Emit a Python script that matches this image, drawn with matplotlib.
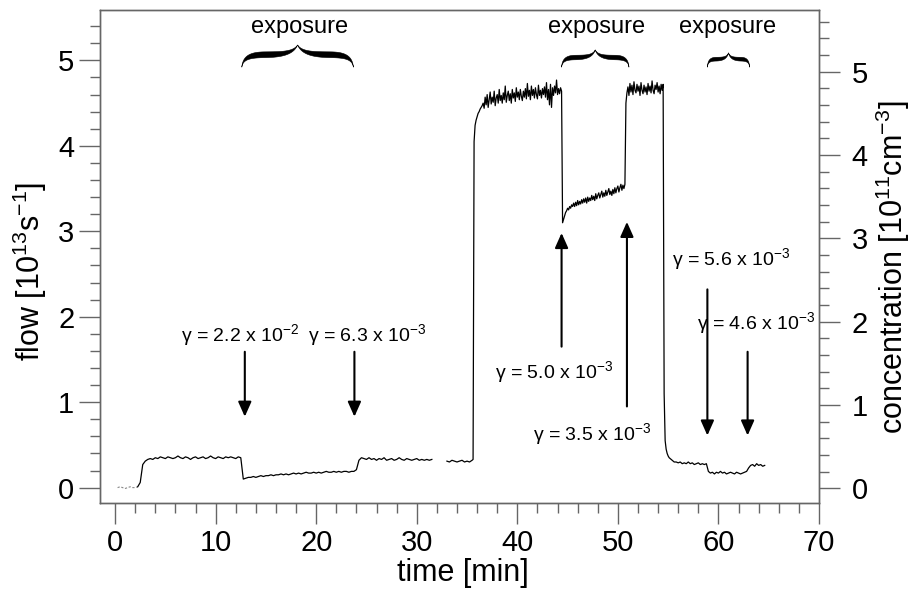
import numpy as np
import matplotlib
matplotlib.use("Agg")
import matplotlib.pyplot as plt
from matplotlib.ticker import MultipleLocator
from matplotlib import font_manager
from matplotlib.patches import Polygon
from matplotlib.transforms import Affine2D, blended_transform_factory

plt.rcParams['font.family'] = ['Liberation Sans', 'DejaVu Sans']
plt.rcParams['mathtext.fontset'] = 'custom'
plt.rcParams['mathtext.rm'] = 'Liberation Sans'
plt.rcParams['mathtext.it'] = 'Liberation Sans:italic'
plt.rcParams['mathtext.bf'] = 'Liberation Sans:bold'
plt.rcParams['mathtext.sf'] = 'Liberation Sans'
plt.rcParams['mathtext.default'] = 'regular'

# ---------------- data (flow in 10^13 s^-1) -------------
# each segment: start time [min], sampling step [min], flow values
flow_base = [0.0, 0.01, 0.0, -0.01, 0.0, 0.01, 0.0, 0.0, 0.01]
flow_plateau1 = [0.06, 0.27, 0.31, 0.33, 0.34, 0.33, 0.35, 0.34, 0.36, 0.35,
                 0.34, 0.36, 0.35, 0.34, 0.35, 0.37, 0.35, 0.34, 0.36, 0.35,
                 0.33, 0.35, 0.36, 0.34, 0.35, 0.36, 0.34, 0.35, 0.37, 0.35,
                 0.34, 0.36, 0.35, 0.34, 0.36, 0.35, 0.36, 0.35, 0.34, 0.36,
                 0.35]
flow_exposure1 = [0.10, 0.11, 0.12, 0.12, 0.13, 0.12, 0.13, 0.14, 0.13, 0.14,
                  0.14, 0.15, 0.14, 0.15, 0.15, 0.16, 0.15, 0.16, 0.15, 0.16,
                  0.17, 0.16, 0.17, 0.16, 0.17, 0.18, 0.17, 0.17, 0.18, 0.17,
                  0.18, 0.17, 0.18, 0.19, 0.18, 0.18, 0.19, 0.18, 0.19, 0.18,
                  0.19, 0.19, 0.18, 0.19, 0.19]
flow_plateau2 = [0.21, 0.32, 0.35, 0.34, 0.33, 0.35, 0.33, 0.34, 0.32, 0.34,
                 0.33, 0.35, 0.32, 0.33, 0.34, 0.32, 0.33, 0.35, 0.33, 0.32,
                 0.34, 0.33, 0.32, 0.33, 0.34, 0.32, 0.33, 0.32, 0.33, 0.32,
                 0.33]
flow_plateau3 = [0.31, 0.30, 0.32, 0.31, 0.30, 0.31, 0.32, 0.30, 0.31, 0.30, 0.32]
flow_high1 = [0.33, 4.05, 4.24, 4.30, 4.34, 4.38, 4.40, 4.43, 4.45, 4.47,
              4.50, 4.44, 4.57, 4.48, 4.60, 4.45, 4.54, 4.63, 4.49, 4.57,
              4.51, 4.64, 4.47, 4.56, 4.60, 4.50, 4.66, 4.53, 4.59, 4.50,
              4.62, 4.54, 4.70, 4.51, 4.59, 4.64, 4.53, 4.61, 4.50, 4.66,
              4.56, 4.62, 4.52, 4.68, 4.57, 4.63, 4.54, 4.66, 4.58, 4.53,
              4.64, 4.57, 4.67, 4.55, 4.73, 4.58, 4.65, 4.54, 4.70, 4.59,
              4.66, 4.56, 4.68, 4.60, 4.55, 4.71, 4.59, 4.65, 4.56, 4.67,
              4.60, 4.69, 4.57, 4.74, 4.54, 4.66, 4.48, 4.72, 4.45, 4.68,
              4.59, 4.70, 4.62, 4.77, 4.60, 4.67, 4.61, 4.68, 4.64]
flow_exposure2 = [3.10, 3.14, 3.18, 3.22, 3.24, 3.27, 3.25, 3.29, 3.27, 3.31,
                  3.29, 3.33, 3.29, 3.34, 3.30, 3.36, 3.31, 3.35, 3.32, 3.37,
                  3.33, 3.38, 3.34, 3.39, 3.33, 3.40, 3.35, 3.39, 3.36, 3.42,
                  3.37, 3.41, 3.36, 3.44, 3.38, 3.42, 3.45, 3.39, 3.43, 3.47,
                  3.40, 3.45, 3.41, 3.48, 3.42, 3.46, 3.50, 3.43, 3.47, 3.42,
                  3.49, 3.44, 3.51, 3.45, 3.50, 3.53, 3.46, 3.51, 3.55, 3.48,
                  3.54, 3.50, 3.55]
flow_high2 = [4.50, 4.62, 4.69, 4.59, 4.73, 4.63, 4.71, 4.60, 4.75, 4.65,
              4.62, 4.72, 4.64, 4.70, 4.59, 4.74, 4.65, 4.61, 4.71, 4.63,
              4.69, 4.60, 4.73, 4.64, 4.70, 4.62, 4.76, 4.65, 4.61, 4.71,
              4.66, 4.74, 4.63, 4.70, 4.61, 4.72, 4.65, 4.72]
flow_decay = [1.10, 0.55, 0.45, 0.40, 0.37, 0.35, 0.34]
flow_plateau4 = [0.32, 0.30, 0.30, 0.29, 0.30, 0.28, 0.29, 0.28, 0.30, 0.28,
                 0.29, 0.27, 0.28, 0.29, 0.27, 0.28, 0.27, 0.28]
flow_exposure3 = [0.19, 0.17, 0.18, 0.16, 0.18, 0.17, 0.19, 0.17, 0.18, 0.16,
                  0.17, 0.18, 0.17, 0.16, 0.18, 0.17, 0.16, 0.17, 0.18, 0.19]
flow_plateau5 = [0.23, 0.26, 0.27, 0.25, 0.28, 0.26, 0.27, 0.25, 0.26]

run1_segments = [(0.25, 0.25, flow_base), (2.5, 0.25, flow_plateau1),
                 (12.75, 0.25, flow_exposure1), (24.0, 0.25, flow_plateau2)]
run2_segments = [(33.0, 0.25, flow_plateau3), (35.6, 0.1, flow_high1),
                 (44.5, 0.1, flow_exposure2), (50.8, 0.1, flow_high2),
                 (54.6, 0.1, flow_decay), (55.4, 0.2, flow_plateau4),
                 (59.0, 0.2, flow_exposure3), (63.0, 0.2, flow_plateau5)]

# uptake coefficient annotations
gamma_texts = ["2.2 x 10$^{-2}$", "6.3 x 10$^{-3}$", "5.0 x 10$^{-3}$",
               "3.5 x 10$^{-3}$", "5.6 x 10$^{-3}$", "4.6 x 10$^{-3}$"]
gamma_text_t = [6.6, 19.2, 37.8, 41.6, 55.4, 57.9]
gamma_text_flow = [1.72, 1.72, 1.28, 0.56, 2.60, 1.86]
arrow_t = [12.9, 23.8, 44.4, 50.9, 58.9, 62.9]
arrow_tail = [1.59, 1.59, 1.65, 0.95, 2.32, 1.59]
arrow_tip = [0.83, 0.83, 2.98, 3.11, 0.61, 0.61]

# exposure periods
exposure_start = [12.6, 44.4, 58.9]
exposure_end = [23.7, 51.1, 63.1]
exposure_label_t = [18.3, 47.9, 60.9]
brace_top = [0.929, 0.919, 0.913]

# ---------------------------------------------------------------------------
def build(segs):
    ts, fs = [], []
    for t0, dt, vals in segs:
        ts.append(t0 + dt * np.arange(len(vals)))
        fs.append(np.asarray(vals, dtype=float))
    return np.concatenate(ts), np.concatenate(fs)


def bezier(p0, p1, p2, p3, n):
    s = np.linspace(0, 1, n)[:, None]
    p0, p1, p2, p3 = map(np.asarray, (p0, p1, p2, p3))
    return ((1 - s) ** 3) * p0 + 3 * ((1 - s) ** 2) * s * p1 + 3 * (1 - s) * s ** 2 * p2 + s ** 3 * p3


def unit_brace():
    """Horizontal curly brace (tip up) in a unit box, calligraphic strokes."""
    a = bezier((0.0, 0.0), (0.01, 0.42), (0.07, 0.55), (0.2, 0.56), 30)
    b = bezier((0.2, 0.56), (0.34, 0.57), (0.46, 0.6), (0.5, 1.0), 30)[1:]
    c = np.vstack([a, b])
    u = np.linspace(0, 1, len(c))
    th = 0.26 * np.sin(np.pi * u) ** 0.9
    up_l = np.column_stack([c[:, 0], c[:, 1] + th / 2])
    lo_l = np.column_stack([c[:, 0], c[:, 1] - th / 2])
    up_r = np.column_stack([1 - up_l[::-1, 0], up_l[::-1, 1]])
    lo_r = np.column_stack([1 - lo_l[::-1, 0], lo_l[::-1, 1]])
    return np.vstack([up_l, up_r, lo_r[::-1], lo_l[::-1]])


names = {f.name for f in font_manager.fontManager.ttflist}
if 'Liberation Sans Narrow' in names:
    gamma_font, gamma_size = 'Liberation Sans Narrow', 16
else:
    gamma_font, gamma_size = 'Liberation Sans', 14

fig = plt.figure(figsize=(9.12, 5.89), dpi=100)
ax = fig.add_axes([100 / 912, 1 - 503 / 589, 719 / 912, 493 / 589])
ax2 = ax.twinx()

t1, f1 = build(run1_segments)
nb = len(flow_base)
ax.plot(t1[:nb], f1[:nb], color='#888888', lw=0.8, ls=(0, (2, 1.5)))
ax.plot(t1[nb - 1:], f1[nb - 1:], color='black', lw=0.9)
t2, f2 = build(run2_segments)
ax.plot(t2, f2, color='black', lw=0.9)

ax.set_xlim(-1.5, 70)
ax.set_ylim(-0.18, 5.59)
ax2.set_ylim(-0.174, 5.74)

spine_col = '#666666'
for a in (ax, ax2):
    for s in a.spines.values():
        s.set_color(spine_col)
        s.set_linewidth(1.0)

ax.xaxis.set_major_locator(MultipleLocator(10))
ax.xaxis.set_minor_locator(MultipleLocator(2))
ax.yaxis.set_major_locator(MultipleLocator(1))
ax.yaxis.set_minor_locator(MultipleLocator(0.2))
ax2.yaxis.set_major_locator(MultipleLocator(1))
ax2.yaxis.set_minor_locator(MultipleLocator(0.2))

ax.tick_params(axis='both', which='major', direction='out', length=15, width=1,
               color=spine_col, labelsize=21, top=False, right=False)
ax.tick_params(axis='both', which='minor', direction='out', length=7, width=1,
               color=spine_col, top=False, right=False)
ax.tick_params(axis='x', which='major', pad=4)
ax.tick_params(axis='y', which='major', pad=3.5)
ax2.tick_params(axis='y', which='major', direction='out', length=15, width=1,
                color=spine_col, labelsize=21, pad=8.5)
ax2.tick_params(axis='y', which='minor', direction='out', length=7, width=1,
                color=spine_col)

ax.set_xlabel('time [min]', fontsize=22)
ax.xaxis.set_label_coords(0.504, -0.112)
ax.set_ylabel('flow [10$^{13}$s$^{-1}$]', fontsize=22)
ax.yaxis.set_label_coords(-0.071, 0.469)
ax2.set_ylabel('concentration [10$^{11}$cm$^{-3}$]', fontsize=22)
ax2.yaxis.set_label_coords(1.076, 0.479)

# arrows and gamma labels
for txt, tx, ty in zip(gamma_texts, gamma_text_t, gamma_text_flow):
    ax.text(tx, ty, '\u03b3 = ' + txt, fontsize=gamma_size,
            family=[gamma_font, 'Liberation Sans', 'DejaVu Sans'],
            ha='left', va='baseline')
for at, a0, a1 in zip(arrow_t, arrow_tail, arrow_tip):
    ax.annotate('', xy=(at, a1), xytext=(at, a0),
                arrowprops=dict(arrowstyle='-|>,head_length=0.45,head_width=0.2',
                                mutation_scale=20, lw=1.5, color='black',
                                shrinkA=0, shrinkB=0))

# braces and exposure labels
brace_xy = unit_brace()
blend = blended_transform_factory(ax.transData, ax.transAxes)
brace_bottom = 0.884
for x0, x1, top in zip(exposure_start, exposure_end, brace_top):
    tr = Affine2D().scale(x1 - x0, top - brace_bottom).translate(x0, brace_bottom) + blend
    ax.add_patch(Polygon(brace_xy, closed=True, transform=tr, facecolor='black',
                         edgecolor='black', lw=0.4, clip_on=False))
for lt in exposure_label_t:
    ax.text(lt, 0.953, 'exposure', transform=blend, fontsize=17,
            ha='center', va='baseline')

fig.savefig('out.png', dpi=100)
